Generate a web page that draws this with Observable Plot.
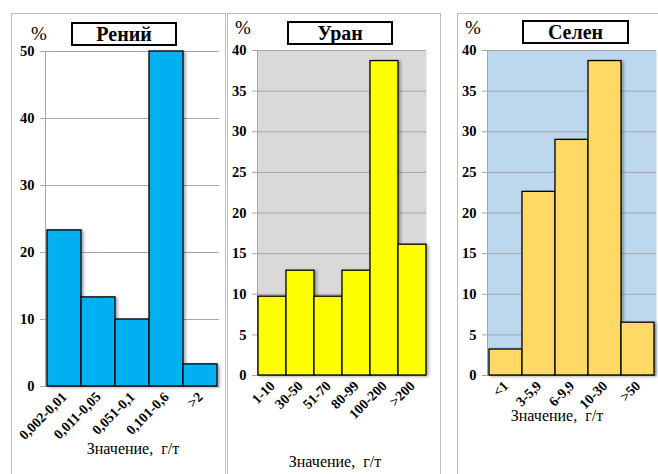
<!DOCTYPE html>
<html>
<head>
<meta charset="utf-8">
<script src="https://cdn.jsdelivr.net/npm/d3@7"></script>
<script src="https://cdn.jsdelivr.net/npm/@observablehq/plot@0.6"></script>
</head>
<body style="margin:0;padding:0;background:#fff;font-family:'Liberation Serif'">
<div id="page" style="position:relative;width:658px;height:474px;overflow:hidden;font-family:'Liberation Serif'">
  <div style="position:absolute;left:11px;top:13px;width:215px;height:470px;border:1px solid #bfbfbf;box-sizing:border-box"></div>
  <div style="position:absolute;left:227px;top:13px;width:214px;height:470px;border:1px solid #bfbfbf;box-sizing:border-box"></div>
  <div style="position:absolute;left:457px;top:13px;width:210px;height:470px;border:1px solid #bfbfbf;box-sizing:border-box"></div>
  <div id="charts"></div>
  <div style="position:absolute;left:71px;top:22px;width:106px;height:24px;border:2px solid #000;box-sizing:border-box;background:#fff;font-family:'Liberation Serif';font-weight:bold;font-size:20px;line-height:20px;text-align:center">Рений</div>
  <div style="position:absolute;left:287px;top:21px;width:106px;height:24px;border:2px solid #000;box-sizing:border-box;background:#fff;font-family:'Liberation Serif';font-weight:bold;font-size:20px;line-height:20px;text-align:center">Уран</div>
  <div style="position:absolute;left:522px;top:20px;width:107px;height:24px;border:2px solid #000;box-sizing:border-box;background:#fff;font-family:'Liberation Serif';font-weight:bold;font-size:20px;line-height:20px;text-align:center">Селен</div>
  <div style="position:absolute;left:31px;top:24px;font-family:'Liberation Serif';font-size:19px;line-height:1">%</div>
  <div style="position:absolute;left:235px;top:18px;font-family:'Liberation Serif';font-size:19px;line-height:1">%</div>
  <div style="position:absolute;left:465px;top:18px;font-family:'Liberation Serif';font-size:19px;line-height:1">%</div>
  <div style="position:absolute;left:133px;top:441px;transform:translateX(-50%);white-space:pre;font-family:'Liberation Serif';font-size:16px;line-height:1">Значение,  г/т</div>
  <div style="position:absolute;left:335px;top:454px;transform:translateX(-50%);white-space:pre;font-family:'Liberation Serif';font-size:16px;line-height:1">Значение,  г/т</div>
  <div style="position:absolute;left:557px;top:408px;transform:translateX(-50%);white-space:pre;font-family:'Liberation Serif';font-size:16px;line-height:1">Значение,  г/т</div>
</div>
<script>
// Рений
const reniumCats = ["0,002-0,01", "0,011-0,05", "0,051-0,1", "0,101-0,6", ">2"];
const reniumPct = [23.3, 13.3, 10.0, 50.0, 3.3];
const reniumTicks = [0, 10, 20, 30, 40, 50];

// Уран
const uraniumCats = ["1-10", "30-50", "51-70", "80-99", "100-200", ">200"];
const uraniumPct = [9.7, 12.9, 9.7, 12.9, 38.7, 16.1];
const uraniumTicks = [0, 5, 10, 15, 20, 25, 30, 35, 40];

// Селен
const seleniumCats = ["<1", "3-5,9", "6-9,9", "10-30", ">50"];
const seleniumPct = [3.2, 22.6, 29.0, 38.7, 6.5];
const seleniumTicks = [0, 5, 10, 15, 20, 25, 30, 35, 40];

const holder = document.getElementById("charts");
const serif = "Liberation Serif";
const gridColor = "#a6a6a6";

// svg box: [left, top, width]; margins: [top, right, bottom, left]
const panels = [
  { cats: reniumCats, values: reniumPct, ticks: reniumTicks, fill: "#00b0f0", bg: null,
    svg: [12, 14, 213], m: [37, 6, 88, 33] },
  { cats: uraniumCats, values: uraniumPct, ticks: uraniumTicks, fill: "#ffff00", bg: "#d9d9d9",
    svg: [228, 14, 212], m: [36, 14, 99, 29] },
  { cats: seleniumCats, values: seleniumPct, ticks: seleniumTicks, fill: "#ffd966", bg: "#bdd7ee",
    svg: [458, 14, 200], m: [36, 2, 99, 29] }
];

for (const p of panels) {
  const data = p.cats.map((c, i) => ({ cat: c, value: p.values[i] }));
  const [mt, mr, mb, ml] = p.m;

  const chart = Plot.plot({
    width: p.svg[2],
    height: 474 - p.svg[1],
    marginTop: mt, marginRight: mr, marginBottom: mb, marginLeft: ml,
    style: { background: "transparent", overflow: "visible", color: "#000", fontFamily: serif },
    x: { type: "band", domain: p.cats, padding: 0, axis: null },
    y: { domain: [0, d3.max(p.ticks)], axis: null },
    marks: [
      p.bg ? Plot.frame({ fill: p.bg, stroke: null }) : null,
      Plot.gridY({ ticks: p.ticks, stroke: gridColor, strokeOpacity: 1, strokeWidth: 1 }),
      Plot.axisY({ ticks: p.ticks, tickSize: 5, tickPadding: 6, stroke: gridColor, fill: "#000",
                   fontWeight: "bold", fontSize: 14.5, label: null }),
      Plot.frame({ anchor: "left", stroke: gridColor }),
      Plot.barY(data, { x: "cat", y: "value", fill: p.fill, stroke: "#000", strokeWidth: 1.3 }),
      Plot.axisX({ tickSize: 0, tickPadding: 8, tickRotate: -45, fontWeight: "bold", fontSize: 14,
                   fill: "#000", label: null })
    ]
  });
  chart.setAttribute("font-family", serif);
  Object.assign(chart.style, { position: "absolute", left: p.svg[0] + "px", top: p.svg[1] + "px" });
  chart.querySelectorAll("text").forEach(t => t.setAttribute("font-family", serif));
  const bars = chart.querySelector('g[aria-label="bar"]');
  if (bars) bars.style.filter = "drop-shadow(2px 1px 1.5px rgba(0,0,0,0.35))";
  holder.appendChild(chart);
}
</script>
</body>
</html>
